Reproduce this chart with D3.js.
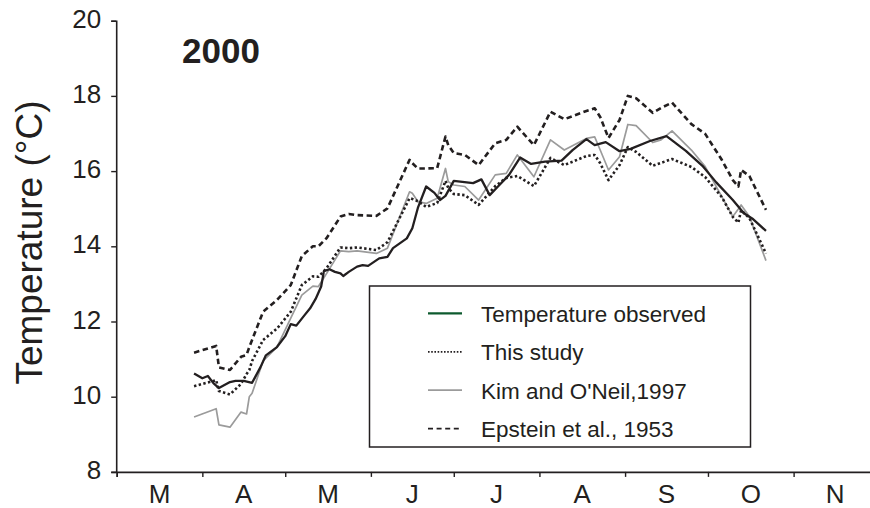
<!DOCTYPE html>
<html>
<head>
<meta charset="utf-8">
<script src="https://cdn.jsdelivr.net/npm/d3@7/dist/d3.min.js"></script>
<style>
  html, body { margin: 0; padding: 0; background: #fff; }
  svg { display: block; font-family: "Liberation Sans", Arial, Helvetica, sans-serif; }
</style>
</head>
<body>
<svg id="chart" width="870" height="508"></svg>
<script>
// Observed water temperature, 2000
const obsDates = ["03-29","04-01","04-03","04-05","04-07","04-11","04-13","04-16","04-19","04-22","04-24","04-28",
  "05-01","05-03","05-05","05-08","05-10","05-12","05-14","05-15","05-17","05-19","05-21","05-22","05-24","05-27","05-29","05-31",
  "06-04","06-07","06-09","06-14","06-16","06-18","06-21","06-24","06-26","06-28",
  "07-01","07-08","07-11","07-13","07-14","07-17","07-21","07-25","07-29",
  "08-03","08-09","08-13","08-18","08-21","08-25","08-30",
  "09-03","09-10","09-16","09-23","09-29",
  "10-04","10-10","10-14","10-17","10-22"];
const obsTemp = [10.62,10.49,10.55,10.36,10.23,10.39,10.42,10.42,10.37,10.78,11.10,11.32,
  11.61,11.93,11.89,12.17,12.35,12.60,12.93,13.34,13.39,13.32,13.28,13.21,13.32,13.46,13.50,13.48,
  13.68,13.72,13.95,14.21,14.48,15.02,15.59,15.42,15.23,15.34,
  15.74,15.68,15.78,15.50,15.36,15.59,15.90,16.36,16.19,
  16.25,16.28,16.56,16.85,16.69,16.77,16.53,
  16.59,16.80,16.93,16.54,16.14,
  15.70,15.23,14.88,14.74,14.41];

// Sampling dates for the isotope-based temperature estimates
const sampleDates = ["03-29","04-06","04-07","04-11","04-15","04-17","04-18","04-19","04-23","04-28",
  "05-03","05-07","05-11","05-13","05-16","05-21","05-24","05-27",
  "06-03","06-07","06-15","06-16","06-18","06-21","06-25","06-28","06-29",
  "07-01","07-05","07-10","07-16","07-20","07-24","07-30",
  "08-05","08-10","08-18","08-21","08-23","08-26","08-30",
  "09-02","09-05","09-11","09-14","09-18","09-25","09-30",
  "10-06","10-10","10-12","10-13","10-16","10-22"];
const thisStudy = [10.28,10.44,10.15,10.06,10.34,10.60,10.71,10.95,11.51,11.81,
  12.26,12.97,13.20,13.19,13.42,13.97,13.95,13.97,
  13.90,14.11,15.28,15.26,15.20,15.05,15.15,15.74,15.55,
  15.39,15.36,15.10,15.60,15.82,15.87,15.60,
  16.35,16.16,16.40,16.43,16.21,15.76,16.16,
  16.64,16.51,16.14,16.22,16.32,16.11,15.84,
  15.31,14.78,14.63,14.96,14.75,13.81];
const kimONeil = [9.46,9.68,9.25,9.19,9.59,9.54,10.00,10.09,10.95,11.32,
  12.09,12.70,12.94,12.93,13.28,13.88,13.86,13.88,
  13.81,13.95,15.45,15.41,15.19,15.14,15.28,16.07,15.72,
  15.63,15.59,15.23,15.90,15.94,16.43,15.85,
  16.83,16.56,16.87,16.91,16.56,16.03,16.38,
  17.24,17.21,16.76,16.83,17.07,16.56,16.12,
  15.32,14.79,14.99,15.10,14.79,13.62];
const epstein = [11.17,11.35,10.78,10.71,11.06,11.11,11.32,11.51,12.26,12.57,
  12.97,13.74,14.00,14.00,14.22,14.79,14.86,14.83,
  14.81,15.01,16.30,16.21,16.07,16.07,16.08,16.92,16.69,
  16.48,16.43,16.16,16.74,16.83,17.18,16.69,
  17.58,17.38,17.60,17.67,17.44,16.88,17.36,
  18.00,17.94,17.55,17.68,17.82,17.25,16.99,
  16.30,15.76,15.59,16.03,15.87,14.97];

const monthLabels = ["M","A","M","J","J","A","S","O","N"];
const yTicks = [8, 10, 12, 14, 16, 18, 20];
const legendLabels = ["Temperature observed", "This study", "Kim and O'Neil,1997", "Epstein et al., 1953"];

const ink = "#231f20";
const parse = d3.timeParse("%Y-%m-%d");
const toDate = s => parse("2000-" + s);

const svg = d3.select("#chart");

const x = d3.scaleTime()
  .domain([parse("2000-03-01"), parse("2000-12-01")])
  .range([116.7, 876.5]);
const y = d3.scaleLinear().domain([8, 20]).range([471.9, 20.7]);

// x axis: month boundaries as ticks, month initials centred between them
const monthStarts = d3.timeMonth.range(parse("2000-03-01"), parse("2000-12-01"));
const xAxis = d3.axisBottom(x).tickValues(monthStarts).tickSize(5).tickFormat("");
const gx = svg.append("g").attr("transform", "translate(0,471.9)").call(xAxis);
gx.select(".domain").attr("stroke", ink).attr("stroke-width", 1.6);
gx.selectAll(".tick line").attr("stroke", ink).attr("stroke-width", 1.4);

svg.append("g").selectAll("text")
  .data(monthStarts)
  .join("text")
  .attr("x", (d, i) => (x(d) + x(d3.timeMonth.offset(d, 1))) / 2)
  .attr("y", 503)
  .attr("text-anchor", "middle")
  .attr("font-size", 26)
  .attr("fill", ink)
  .text((d, i) => monthLabels[i]);

// y axis
const yAxis = d3.axisLeft(y).tickValues(yTicks).tickSize(5).tickPadding(10).tickFormat(d3.format("d"));
const gy = svg.append("g").attr("transform", "translate(116.2,0)").call(yAxis);
gy.select(".domain").attr("stroke", ink).attr("stroke-width", 1.6);
gy.selectAll(".tick line").attr("stroke", ink).attr("stroke-width", 1.4);
gy.selectAll(".tick text")
  .attr("font-size", 26)
  .attr("font-family", "\"Liberation Sans\", Arial, sans-serif")
  .attr("fill", ink)
  .attr("dy", "0.25em");

svg.append("text")
  .attr("transform", "translate(42,242.5) rotate(-90)")
  .attr("text-anchor", "middle")
  .attr("font-size", 37)
  .attr("fill", ink)
  .text("Temperature (°C)");

svg.append("text")
  .attr("x", 182).attr("y", 63)
  .attr("font-size", 35)
  .attr("font-weight", "bold")
  .attr("fill", ink)
  .text("2000");

// series
const line = d3.line().x(d => x(d.date)).y(d => y(d.value));
const obs = obsDates.map((d, i) => ({ date: toDate(d), value: obsTemp[i] }));
const series = (vals) => sampleDates.map((d, i) => ({ date: toDate(d), value: vals[i] }));

const plot = svg.append("g").attr("fill", "none").attr("stroke-linejoin", "round");
plot.append("path").datum(series(kimONeil))
  .attr("d", line).attr("stroke", "#9b9b9b").attr("stroke-width", 1.7);
plot.append("path").datum(series(thisStudy))
  .attr("d", line).attr("stroke", ink).attr("stroke-width", 2.6)
  .attr("stroke-dasharray", "2.4,2.4");
plot.append("path").datum(series(epstein))
  .attr("d", line).attr("stroke", ink).attr("stroke-width", 2.6)
  .attr("stroke-dasharray", "5.5,3.5");
plot.append("path").datum(obs)
  .attr("d", line).attr("stroke", ink).attr("stroke-width", 2.3);

// legend
const legend = svg.append("g");
legend.append("rect")
  .attr("x", 369.5).attr("y", 286)
  .attr("width", 381).attr("height", 161)
  .attr("fill", "#fff").attr("stroke", ink).attr("stroke-width", 1.5);

const legendStyles = [
  { stroke: "#0d5a2e", width: 2.2, dash: null },
  { stroke: ink, width: 1.8, dash: "1.6,1.6" },
  { stroke: "#9b9b9b", width: 1.7, dash: null },
  { stroke: ink, width: 1.8, dash: "5,3.6" }
];
const rows = legend.selectAll("g.row").data(legendLabels).join("g")
  .attr("class", "row")
  .attr("transform", (d, i) => `translate(0,${321.7 + i * 38.4})`);
rows.append("line")
  .attr("x1", 428).attr("x2", 462).attr("y1", -8.3).attr("y2", -8.3)
  .attr("stroke", (d, i) => legendStyles[i].stroke)
  .attr("stroke-width", (d, i) => legendStyles[i].width)
  .attr("stroke-dasharray", (d, i) => legendStyles[i].dash);
rows.append("text")
  .attr("x", 481).attr("y", 0)
  .attr("font-size", 22.5)
  .attr("fill", ink)
  .text(d => d);
</script>
</body>
</html>
